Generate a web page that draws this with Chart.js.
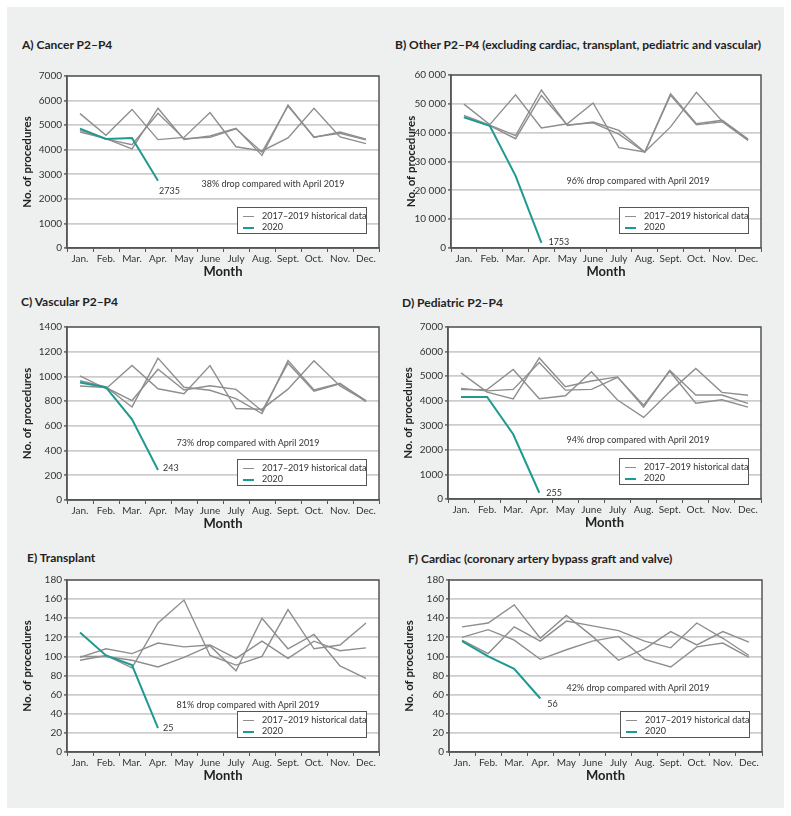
<!DOCTYPE html>
<html>
<head>
<meta charset="utf-8">
<script src="https://cdn.jsdelivr.net/npm/chart.js@4.4.1/dist/chart.umd.min.js"></script>
<style>
    html, body { margin: 0; padding: 0; background: #fff; }
    body { width: 791px; height: 816px; position: relative; overflow: hidden; font-family: Lato, sans-serif; color: #222; }
    #frame { position: absolute; left: 7px; top: 7px; width: 777px; height: 801px; background: #eeefef; }
    canvas { position: absolute; }
    .title { position: absolute; font-weight: bold; font-size: 12px; white-space: nowrap; transform: translateY(-50%); }
    .note { position: absolute; font-size: 9px; color: #333; white-space: nowrap; transform: translate(-50%, -50%); }
    .legend { position: absolute; width: 130px; height: 27px; background: #fff; border: 1.5px solid #555; box-sizing: border-box; font-size: 9px; color: #333; }
    .legend div { position: absolute; left: 5px; height: 11px; line-height: 11px; white-space: nowrap; }
    .legend span { display: inline-block; width: 11px; vertical-align: middle; margin-right: 8px; }
</style>
</head>
<body>
<div id="frame"></div>

<script>
/*------------------data------------------------*/
const months = ['Jan.', 'Feb.', 'Mar.', 'Apr.', 'May', 'June', 'July', 'Aug.', 'Sept.', 'Oct.', 'Nov.', 'Dec.'];

const cancerA = [5470, 4590, 5640, 4410, 4500, 5510, 4120, 3950, 4480, 5690, 4520, 4250];
const cancerB = [4720, 4450, 4030, 5690, 4420, 4560, 4870, 3770, 5820, 4500, 4720, 4430];
const cancerC = [4800, 4430, 4200, 5480, 4450, 4500, 4850, 3900, 5780, 4520, 4670, 4400];
const cancer2020 = [4860, 4440, 4480, 2735];

const otherA = [49900, 42800, 53100, 41600, 43100, 50300, 34800, 33300, 42000, 54000, 44000, 37500];
const otherB = [46000, 42600, 39000, 54800, 42500, 43700, 40800, 33300, 53500, 43100, 44300, 37800];
const otherC = [45500, 42400, 37900, 52900, 42700, 43400, 39500, 33200, 53000, 42700, 43800, 37300];
const other2020 = [45300, 42400, 25000, 1753];

const vascA = [1005, 900, 1088, 900, 860, 1088, 740, 735, 897, 1126, 923, 800];
const vascB = [965, 915, 753, 1148, 912, 888, 820, 700, 1128, 890, 944, 795];
const vascC = [923, 910, 805, 1058, 890, 925, 895, 720, 1107, 880, 940, 805];
const vasc2020 = [950, 912, 653, 243];

const pedA = [4450, 4450, 5270, 4080, 4200, 5175, 4030, 3320, 4360, 5310, 4340, 4220];
const pedB = [5135, 4350, 4070, 5740, 4570, 4800, 4970, 3740, 5240, 4230, 4230, 3890];
const pedC = [4500, 4400, 4460, 5550, 4430, 4460, 4950, 3820, 5200, 3900, 4040, 3740];
const ped2020 = [4150, 4150, 2635, 255];

const transA = [99, 108, 103, 114, 110, 112, 98, 116, 98, 116, 106, 109];
const transB = [96, 101, 88, 135, 159, 101, 91, 100, 149, 108, 112, 135];
const transC = [100, 100, 96, 89, 99, 111, 85, 140, 108, 123, 90, 77];
const trans2020 = [125, 101, 91, 25];

const cardA = [131, 135, 154, 119, 143, 121, 96, 108, 126, 112, 126, 115];
const cardB = [120, 128, 117, 97, 107, 116, 121, 97, 89, 110, 114, 99];
const cardC = [117, 103, 131, 116, 137, 132, 127, 116, 109, 135, 119, 101];
const card2020 = [116, 100, 87, 56];

const histLabel = '2017–2019 historical data';
const gray = '#8e8e8e';
const teal = '#1f9a90';

/*------------------panels (plot box in page px)------------------------*/
const panels = [
    { title: 'A) Cancer P2–P4', tx: 22, ty: 44, hist: [cancerA, cancerB, cancerC], cur: cancer2020,
      max: 7000, step: 1000, box: [67, 76, 379, 248], note: '38% drop compared with April 2019', nx: 273, ny: 183, lab: [1, 10] },
    { title: 'B) Other P2–P4 (excluding cardiac, transplant, pediatric and vascular)', tx: 395, ty: 44, hist: [otherA, otherB, otherC], cur: other2020,
      max: 60000, step: 10000, box: [451, 75, 761, 248], note: '96% drop compared with April 2019', nx: 638, ny: 180, lab: [7, -1] },
    { title: 'C) Vascular P2–P4', tx: 21, ty: 301, hist: [vascA, vascB, vascC], cur: vasc2020,
      max: 1400, step: 200, box: [67, 327, 379, 500], note: '73% drop compared with April 2019', nx: 248, ny: 442, lab: [5, -2] },
    { title: 'D) Pediatric P2–P4', tx: 402, ty: 302, hist: [pedA, pedB, pedC], cur: ped2020,
      max: 7000, step: 1000, box: [448, 327, 761, 499], note: '94% drop compared with April 2019', nx: 638, ny: 439, lab: [7, 0] },
    { title: 'E) Transplant', tx: 27, ty: 557, hist: [transA, transB, transC], cur: trans2020,
      max: 180, step: 20, box: [67, 580, 379, 752], note: '81% drop compared with April 2019', nx: 248, ny: 704, lab: [5, 0] },
    { title: 'F) Cardiac (coronary artery bypass graft and valve)', tx: 408, ty: 558, hist: [cardA, cardB, cardC], cur: card2020,
      max: 180, step: 20, box: [449, 580, 762, 752], note: '42% drop compared with April 2019', nx: 638, ny: 687, lab: [7, 6] }
];

// white plot area + dark frame round it
const plotFrame = {
    id: 'plotFrame',
    beforeDraw(chart) {
        const a = chart.chartArea;
        chart.ctx.save();
        chart.ctx.fillStyle = '#fff';
        chart.ctx.fillRect(a.left, a.top, a.right - a.left, a.bottom - a.top);
        chart.ctx.restore();
    },
    afterDraw(chart) {
        const a = chart.chartArea;
        const ctx = chart.ctx;
        ctx.save();
        ctx.strokeStyle = '#555';
        ctx.lineWidth = 1.5;
        ctx.strokeRect(a.left, a.top, a.right - a.left, a.bottom - a.top);
        ctx.restore();
    }
};

// last 2020 value written next to its point
const lastValue = {
    id: 'lastValue',
    afterDatasetsDraw(chart, args, opts) {
        const pts = chart.getDatasetMeta(3).data;
        const p = pts[pts.length - 1];
        const v = chart.data.datasets[3].data[pts.length - 1];
        const ctx = chart.ctx;
        ctx.save();
        ctx.font = '9px Lato';
        ctx.fillStyle = '#333';
        ctx.textBaseline = 'middle';
        ctx.fillText(String(v), p.x + opts.dx, p.y + opts.dy);
        ctx.restore();
    }
};

function fmt(v) {
    return v >= 10000 ? String(v).replace(/\B(?=(\d{3})+(?!\d))/g, ' ') : String(v);
}

const axisW = 52, axisH = 32, padTop = 8, padRight = 8;

panels.forEach(p => {
    const [L, T, R, B] = p.box;

    const t = document.createElement('div');
    t.className = 'title';
    t.style.left = p.tx + 'px';
    t.style.top = p.ty + 'px';
    t.textContent = p.title;
    document.body.appendChild(t);

    const cv = document.createElement('canvas');
    const w = axisW + (R - L) + padRight;
    const h = padTop + (B - T) + axisH;
    cv.width = w;
    cv.height = h;
    cv.style.left = (L - axisW) + 'px';
    cv.style.top = (T - padTop) + 'px';
    cv.style.width = w + 'px';
    cv.style.height = h + 'px';
    document.body.appendChild(cv);

    const datasets = p.hist.map(d => ({
        label: histLabel, data: d, borderColor: gray, borderWidth: 1.4,
        pointRadius: 0, tension: 0, order: 2
    }));
    datasets.push({ label: '2020', data: p.cur, borderColor: teal, borderWidth: 2,
        pointRadius: 0, tension: 0, order: 1 });

    new Chart(cv.getContext('2d'), {
        type: 'line',
        data: { labels: months, datasets: datasets },
        options: {
            responsive: false,
            animation: false,
            layout: { padding: { left: 0, top: padTop, right: padRight, bottom: 0 } },
            plugins: {
                legend: { display: false },
                tooltip: { enabled: false },
                lastValue: { dx: p.lab[0], dy: p.lab[1] }
            },
            scales: {
                x: {
                    offset: true,
                    grid: { offset: true, drawOnChartArea: false, tickLength: 4, tickColor: '#555', lineWidth: 1 },
                    border: { color: '#555', width: 1.5 },
                    ticks: { autoSkip: false, maxRotation: 0, padding: 1, color: '#333', font: { family: 'Lato', size: 10 } },
                    title: { display: true, text: 'Month', color: '#222', padding: 0, font: { family: 'Lato', size: 13, weight: 'bold' } },
                    afterFit(s) { s.height = axisH; }
                },
                y: {
                    min: 0, max: p.max,
                    grid: { color: '#cdcdcd', lineWidth: 1.8, tickLength: 3, tickColor: '#777' },
                    border: { color: '#555', width: 1.5 },
                    ticks: { stepSize: p.step, padding: 2, color: '#333', font: { family: 'Lato', size: 10 }, callback: v => fmt(v) },
                    title: { display: true, text: 'No. of procedures', color: '#222', padding: { top: 5, bottom: 0 }, font: { family: 'Lato', size: 11.5, weight: 'bold' } },
                    afterFit(s) { s.width = axisW; }
                }
            }
        },
        plugins: [plotFrame, lastValue]
    });

    const n = document.createElement('div');
    n.className = 'note';
    n.style.left = p.nx + 'px';
    n.style.top = p.ny + 'px';
    n.textContent = p.note;
    document.body.appendChild(n);

    // legend box, bottom right inside the plot
    const lg = document.createElement('div');
    lg.className = 'legend';
    lg.style.left = (R - 12 - 130) + 'px';
    lg.style.top = (B - 14 - 27) + 'px';
    lg.innerHTML =
        '<div style="top:2px"><span style="height:1.5px;background:' + gray + '"></span>' + histLabel + '</div>' +
        '<div style="top:13px"><span style="height:2px;background:' + teal + '"></span>2020</div>';
    document.body.appendChild(lg);
});
</script>
</body>
</html>
